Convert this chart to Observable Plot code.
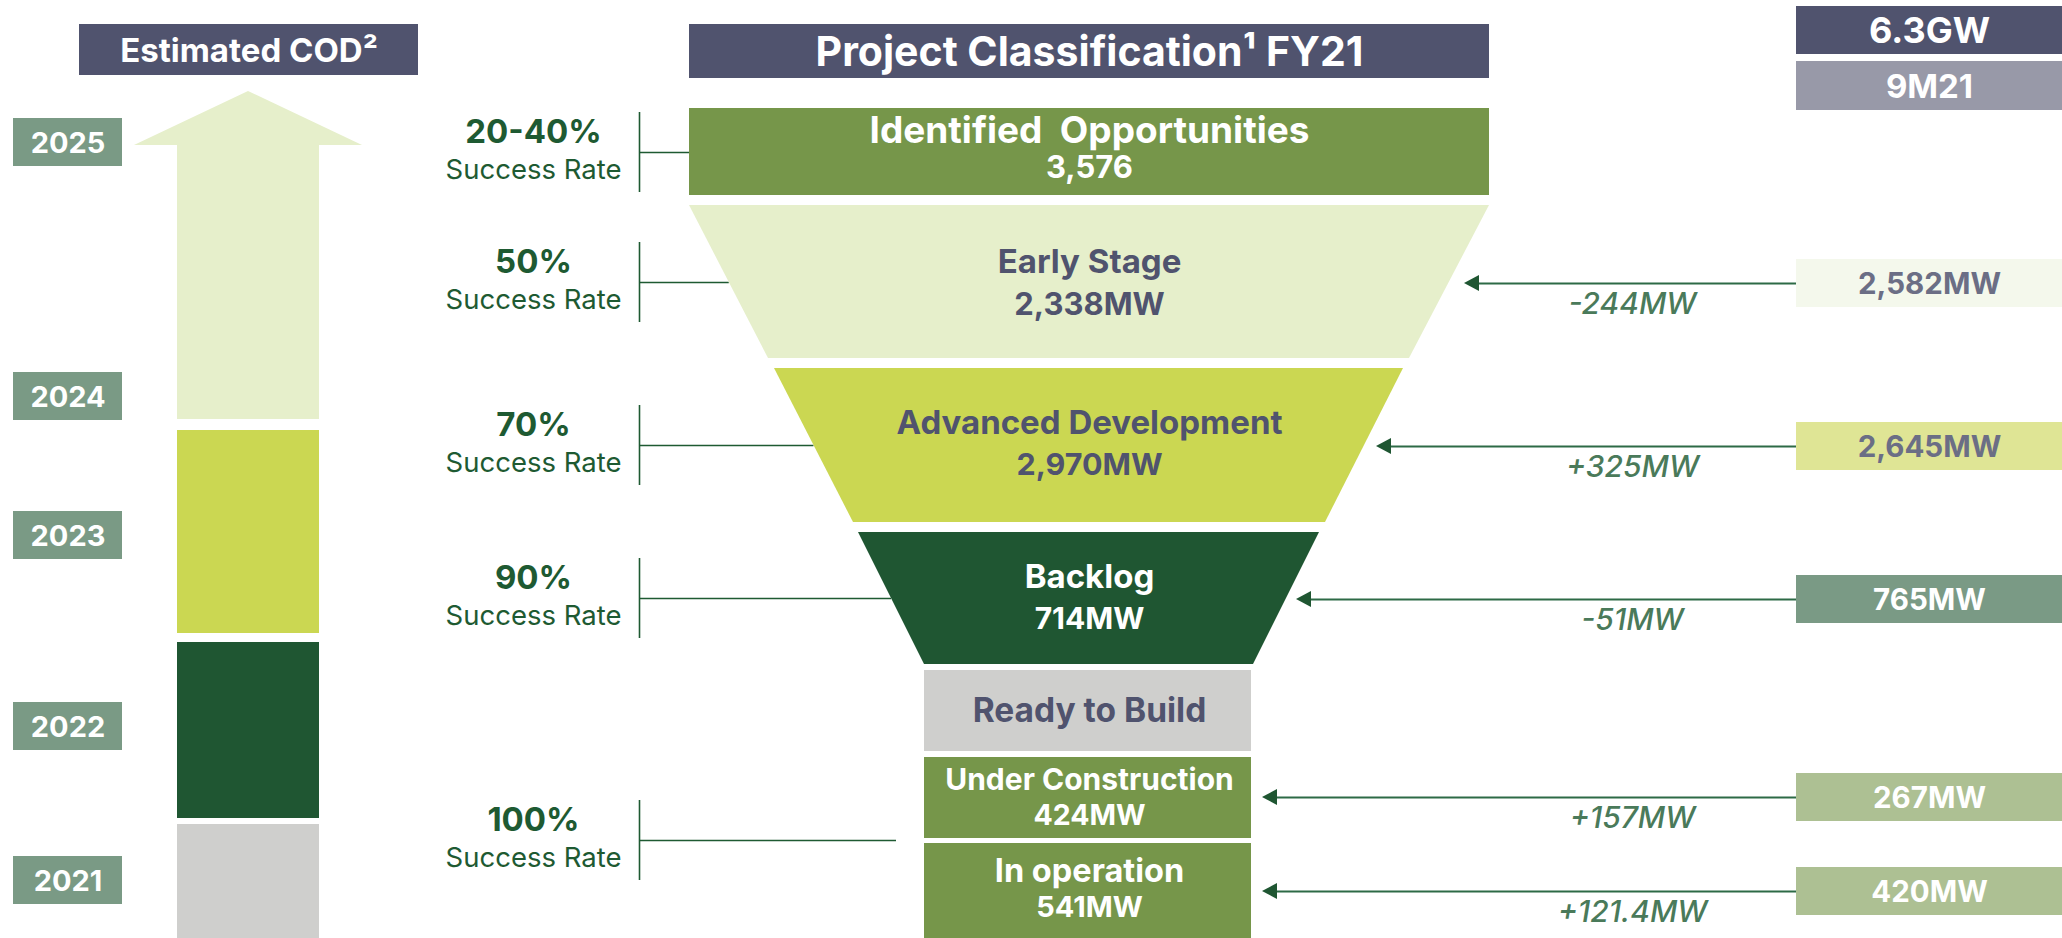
<!DOCTYPE html>
<html><head><meta charset="utf-8">
<script src="https://cdn.jsdelivr.net/npm/d3@7"></script>
<script src="https://cdn.jsdelivr.net/npm/@observablehq/plot@0.6"></script>
<style>
html,body{margin:0;padding:0;background:#fff;overflow:hidden}
#chart svg{display:block}
</style></head><body><div id="chart"></div>
<script>
// ================= DATA =================
const codTitle = "Estimated COD²";
const funnelTitle = "Project Classification¹ FY21";
const pipelineTotal = "6.3GW";
const comparisonPeriod = "9M21";
const codYears = ["2025", "2024", "2023", "2022", "2021"];
const stageNames = ["Identified  Opportunities", "Early Stage", "Advanced Development", "Backlog", "Ready to Build", "Under Construction", "In operation"];
const stageValuesMW = [3576, 2338, 2970, 714, null, 424, 541];
const successRates = ["20-40%", "50%", "70%", "90%", "100%"];
const successLabel = "Success Rate";
const priorStages = ["Early Stage", "Advanced Development", "Backlog", "Under Construction", "In operation"];
const prior9M21MW = [2582, 2645, 765, 267, 420];
const changeMW = [-244, 325, -51, 157, 121.4];

// ================= LAYOUT / STYLE =================
const W = 2062, H = 938;
const C = {
  slate: "#50536e", slateLight: "#9899a8", yearBox: "#7a9a85",
  olive: "#76964a", pale: "#e6efcb", lime: "#cbd752", dark: "#1f5632", grey: "#cfcfcd",
  green: "#1e5a32", change: "#4a7a5a", arrow: "#2d6a46",
  priorText: "#6b6e85"
};
const FW = "Inter, 'DejaVu Sans', sans-serif";

// funnel geometry per stage (top/bottom y, left/right at top & bottom), font sizes for name / value
const geo = [
  {y1: 108, y2: 195, tl: 689, tr: 1489, bl: 689, br: 1489, fill: C.olive, ink: "#fff", ny: 131, vy: 168, fs: 37, vs: 31},
  {y1: 205, y2: 358, tl: 689, tr: 1489, bl: 768, br: 1409, fill: C.pale, ink: C.slate, ny: 262, vy: 305, fs: 33, vs: 31},
  {y1: 368, y2: 522, tl: 774, tr: 1403, bl: 853, br: 1325, fill: C.lime, ink: C.slate, ny: 423, vy: 465, fs: 33, vs: 30.5},
  {y1: 532, y2: 664, tl: 858, tr: 1319, bl: 924, br: 1253, fill: C.dark, ink: "#fff", ny: 577, vy: 619, fs: 33, vs: 30},
  {y1: 670, y2: 751, tl: 924, tr: 1251, bl: 924, br: 1251, fill: C.grey, ink: C.slate, ny: 711, vy: 711, fs: 33.5, vs: 30},
  {y1: 757, y2: 838, tl: 924, tr: 1251, bl: 924, br: 1251, fill: C.olive, ink: "#fff", ny: 780, vy: 815, fs: 30, vs: 28.5},
  {y1: 843, y2: 938, tl: 924, tr: 1251, bl: 924, br: 1251, fill: C.olive, ink: "#fff", ny: 871, vy: 907, fs: 32.5, vs: 29}
];
const funnelCX = 1089;
const edgeAt = (g, y) => g.tl + (g.bl - g.tl) * (y - g.y1) / (g.y2 - g.y1);

const funnel = stageNames.map((name, i) => ({name, idx: i, value: stageValuesMW[i], ...geo[i]}));
const funnelPts = funnel.flatMap(d => [
  {name: d.name, y: d.y1, x1: d.tl, x2: d.tr, fill: d.fill},
  {name: d.name, y: d.y2, x1: d.bl, x2: d.br, fill: d.fill}
]);
const fmtVal = (v, i) => v == null ? null : (i === 0 ? d3.format(",")(v) : d3.format(",")(v) + "MW");

// COD column
const yearBoxY = [118, 372, 511, 702, 856];
const yearBoxH = 48;
const years = codYears.map((y, i) => ({year: y, y1: yearBoxY[i], y2: yearBoxY[i] + yearBoxH}));
const shaftX1 = 177, shaftX2 = 319;
const codBands = [
  {y1: 430, y2: 633, fill: C.lime},
  {y1: 642, y2: 818, fill: C.dark},
  {y1: 824, y2: 938, fill: C.grey}
];
const arrowHead = [
  {y: 91, x1: (shaftX1 + shaftX2) / 2, x2: (shaftX1 + shaftX2) / 2},
  {y: 145, x1: 134, x2: 362}
];
const arrowShaft = [{y1: 144, y2: 419}];

// success-rate brackets
const bracketX = 639, rateCX = 533;
const bracketY = [152, 282, 445, 598, 840];
const bracketEnd = [geo[0].tl, edgeAt(geo[1], 282), edgeAt(geo[2], 445), edgeAt(geo[3], 598), geo[5].tl - 28];
const success = successRates.map((r, i) => ({rate: r, y: bracketY[i], x2: bracketEnd[i]}));

// right column: 9M21 comparison
const boxX1 = 1796, boxX2 = 2062, boxCX = 1929;
const priorY = [283, 446, 599, 797, 891];
const priorFill = ["#f4f8ec", "#dfe595", C.yearBox, "#adc093", "#adc093"];
const priorInk = [C.priorText, C.priorText, "#fff", "#fff", "#fff"];
const tipX = [1464, 1376, 1296, 1262, 1262];
const prior = priorStages.map((s, i) => ({
  stage: s, value: prior9M21MW[i], change: changeMW[i], y: priorY[i],
  fill: priorFill[i], ink: priorInk[i], tip: tipX[i]
}));
const heads = prior.flatMap((d, i) => [
  {k: i, y: d.y - 8, x1: d.tip + 15, x2: d.tip + 15},
  {k: i, y: d.y, x1: d.tip, x2: d.tip + 15},
  {k: i, y: d.y + 8, x1: d.tip + 15, x2: d.tip + 15}
]);
const fmtChange = v => (v > 0 ? "+" : "-") + Math.abs(v) + "MW";

const headers = [
  {label: codTitle, x1: 79, x2: 418, y1: 24, y2: 75, fill: C.slate, fs: 33},
  {label: funnelTitle, x1: 689, x2: 1489, y1: 24, y2: 78, fill: C.slate, fs: 41},
  {label: pipelineTotal, x1: boxX1, x2: boxX2, y1: 6, y2: 54, fill: C.slate, fs: 36},
  {label: comparisonPeriod, x1: boxX1, x2: boxX2, y1: 61, y2: 110, fill: C.slateLight, fs: 33}
];

// ================= PLOT =================
const chart = Plot.plot({
  width: W, height: H, margin: 0,
  x: {domain: [0, W], range: [0, W], axis: null},
  y: {domain: [0, H], range: [0, H], axis: null},
  color: {type: "identity"},
  style: {background: "#fff"},
  marks: [
    // header boxes
    Plot.rect(headers, {x1: "x1", x2: "x2", y1: "y1", y2: "y2", fill: "fill"}),
    ...headers.map(h => Plot.text([h], {x: d => (d.x1 + d.x2) / 2, y: d => (d.y1 + d.y2) / 2 + 1, text: "label",
      fill: "#fff", fontSize: h.fs, fontWeight: 700, fontFamily: FW})),

    // COD arrow & bands
    Plot.areaX(arrowHead, {y: "y", x1: "x1", x2: "x2", fill: C.pale, curve: "linear"}),
    Plot.rect(arrowShaft, {x1: shaftX1, x2: shaftX2, y1: "y1", y2: "y2", fill: C.pale}),
    Plot.rect(codBands, {x1: shaftX1, x2: shaftX2, y1: "y1", y2: "y2", fill: "fill"}),
    Plot.rect(years, {x1: 13, x2: 122, y1: "y1", y2: "y2", fill: C.yearBox}),
    Plot.text(years, {x: 67.5, y: d => (d.y1 + d.y2) / 2 + 1, text: "year", fill: "#fff", fontSize: 29, fontWeight: 700, fontFamily: FW}),

    // success-rate brackets
    Plot.ruleX(success, {x: bracketX, y1: d => d.y - 40, y2: d => d.y + 40, stroke: C.green, strokeWidth: 1.6}),
    Plot.ruleY(success, {y: "y", x1: bracketX, x2: "x2", stroke: C.green, strokeWidth: 1.6}),
    Plot.text(success, {x: rateCX, y: d => d.y - 20, text: "rate", fill: C.green, fontSize: 33, fontWeight: 700, fontFamily: FW}),
    Plot.text(success, {x: rateCX, y: d => d.y + 18, text: () => successLabel, fill: C.green, fontSize: 27.5, fontWeight: 400, fontFamily: FW}),

    // funnel
    Plot.areaX(funnelPts, {y: "y", x1: "x1", x2: "x2", z: "name", fill: "fill", curve: "linear"}),
    ...funnel.map(d => Plot.text([d], {x: funnelCX, y: "ny", text: "name", fill: "ink", fontSize: d.fs, fontWeight: 700, fontFamily: FW})),
    ...funnel.filter(d => d.value != null).map(d => Plot.text([d], {x: funnelCX, y: "vy",
      text: e => fmtVal(e.value, e.idx), fill: "ink", fontSize: d.vs, fontWeight: 700, fontFamily: FW})),

    // right column comparison
    Plot.rect(prior, {x1: boxX1, x2: boxX2, y1: d => d.y - 24, y2: d => d.y + 24, fill: "fill"}),
    Plot.text(prior, {x: boxCX, y: d => d.y + 1, text: d => d3.format(",")(d.value) + "MW", fill: "ink", fontSize: 29.5, fontWeight: 700, fontFamily: FW}),
    Plot.ruleY(prior, {y: "y", x1: d => d.tip + 10, x2: boxX1, stroke: C.arrow, strokeWidth: 2.2}),
    Plot.areaX(heads, {y: "y", x1: "x1", x2: "x2", z: "k", fill: C.dark, curve: "linear"}),
    Plot.text(prior, {x: 1632, y: d => d.y + 21, text: d => fmtChange(d.change), fill: C.change, fontSize: 30, fontStyle: "italic", fontWeight: 500, fontFamily: FW})
  ]
});
document.getElementById("chart").appendChild(chart);
</script></body></html>
